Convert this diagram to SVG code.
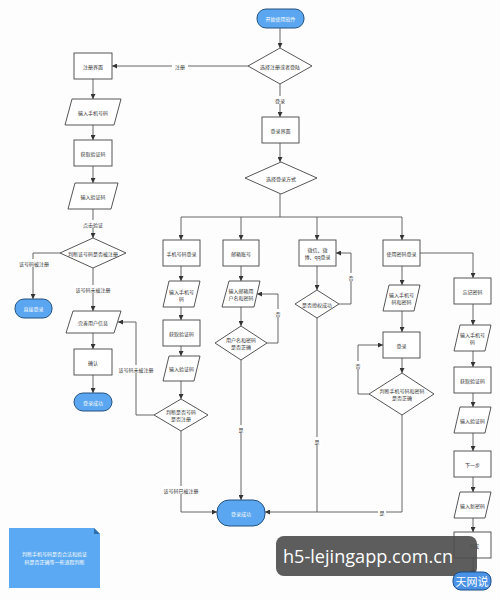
<svg xmlns="http://www.w3.org/2000/svg" width="500" height="600" viewBox="0 0 500 600">
<defs>
<marker id="ah" viewBox="0 0 10 10" refX="10" refY="5" markerWidth="5" markerHeight="5" orient="auto" markerUnits="userSpaceOnUse"><path d="M0,0 L10,5 L0,10 Z" fill="#333"/></marker>
</defs>
<style>
.n{fill:#fff;stroke:#444;stroke-width:0.9}
.p{fill:#5aa6f0;stroke:#24527e;stroke-width:1}
.t{font-family:"Noto Sans CJK SC","Liberation Sans",sans-serif;font-size:5px;fill:#333;text-anchor:middle;dominant-baseline:central}
.w{fill:#fff}
.e{fill:none;stroke:#555;stroke-width:0.9}
.a{marker-end:url(#ah)}
.lb{fill:#fff}
</style>
<rect width="500" height="600" fill="#fdfdfd"/>

<g id="edges">
<path class="e a" d="M280,28 V48"/>
<path class="e a" d="M248,66 H112"/>
<path class="e a" d="M93,79 V99"/>
<path class="e a" d="M93,125 V140"/>
<path class="e a" d="M93,166 V183"/>
<path class="e a" d="M93,209 V238"/>
<path class="e a" d="M60,253 H33 V299"/>
<path class="e a" d="M93,268 V311"/>
<path class="e a" d="M93,333 V349"/>
<path class="e a" d="M93,375 V393"/>
<path class="e a" d="M280,84 V117"/>
<path class="e a" d="M280,143 V162"/>
<path class="e" d="M280,194 V217 M181,217 H402"/>
<path class="e a" d="M181,217 V240"/>
<path class="e a" d="M241,217 V240"/>
<path class="e a" d="M317,217 V240"/>
<path class="e a" d="M402,217 V240"/>
<path class="e a" d="M181,266 V281"/>
<path class="e a" d="M181,307 V320"/>
<path class="e a" d="M181,346 V356"/>
<path class="e a" d="M181,381 V399"/>
<path class="e a" d="M154,415 H136 V322 H118"/>
<path class="e a" d="M181,431 V512 H217"/>
<path class="e a" d="M241,266 V281"/>
<path class="e a" d="M241,307 V326"/>
<path class="e a" d="M267,343 H278 V294 H257"/>
<path class="e a" d="M241,360 V500"/>
<path class="e a" d="M317,266 V290"/>
<path class="e a" d="M339,304 H351 V253 H336"/>
<path class="e" d="M317,318 V512"/>
<path class="e a" d="M402,266 V285"/>
<path class="e a" d="M402,311 V332"/>
<path class="e a" d="M402,358 V373"/>
<path class="e a" d="M369,394 H358 V345 H383"/>
<path class="e a" d="M402,415 V512 H265"/>
<path class="e a" d="M420,253 H473 V278"/>
<path class="e a" d="M473,304 V325"/>
<path class="e a" d="M473,351 V367"/>
<path class="e a" d="M473,393 V407"/>
<path class="e a" d="M473,433 V451"/>
<path class="e a" d="M473,477 V492"/>
<path class="e a" d="M473,518 V532"/>
<path class="e a" d="M473,558 V575"/>
<g id="edge-labels">
<rect class="lb" x="172" y="62" width="16" height="8"/><text class="t" x="180" y="66">注册</text>
<rect class="lb" x="82" y="220" width="22" height="8"/><text class="t" x="93" y="224">点击验证</text>
<rect class="lb" x="18" y="259" width="32" height="8"/><text class="t" x="34" y="263">该号码被注册</text>
<rect class="lb" x="75" y="285" width="36" height="8"/><text class="t" x="93" y="289">该号码未被注册</text>
<rect class="lb" x="272" y="96" width="16" height="8"/><text class="t" x="280" y="100">登录</text>
<rect class="lb" x="118" y="365" width="36" height="8"/><text class="t" x="136" y="369">该号码未被注册</text>
<rect class="lb" x="163" y="486" width="36" height="8"/><text class="t" x="181" y="490">该号码已被注册</text>
<rect class="lb" x="274" y="309" width="8" height="8"/><text class="t" x="278" y="313">否</text>
<rect class="lb" x="237" y="425" width="8" height="8"/><text class="t" x="241" y="429">是</text>
<rect class="lb" x="347" y="273" width="8" height="8"/><text class="t" x="351" y="277">否</text>
<rect class="lb" x="313" y="437" width="8" height="8"/><text class="t" x="317" y="441">是</text>
<rect class="lb" x="354" y="361" width="8" height="8"/><text class="t" x="358" y="365">否</text>
<rect class="lb" x="378" y="508" width="8" height="8"/><text class="t" x="382" y="512">是</text>
</g>
</g>

<g id="start"><rect class="p" x="257" y="9" width="47" height="19" rx="9"/><text class="t w" x="280.5" y="18.5">开始使用软件</text></g>
<g id="choose"><polygon class="n" points="280,48 312,66 280,84 248,66"/><text class="t" x="280" y="66">选择注册或者登陆</text></g>
<g id="reg"><rect class="n" x="74" y="53" width="38" height="26"/><text class="t" x="93" y="66">注册界面</text></g>
<g id="reg-phone"><polygon class="n" points="72,99 121,99 114,125 65,125"/><text class="t" x="93" y="112">输入手机号码</text></g>
<g id="reg-getcode"><rect class="n" x="74" y="140" width="38" height="26"/><text class="t" x="93" y="153">获取验证码</text></g>
<g id="reg-code"><polygon class="n" points="75,183 118,183 111,209 68,209"/><text class="t" x="93" y="196">输入验证码</text></g>
<g id="reg-check"><polygon class="n" points="93,238 126,253 93,268 60,253"/><text class="t" x="93" y="253">判断该号码是否被注册</text></g>
<g id="direct-login"><rect class="p" x="15" y="299" width="37" height="19" rx="9"/><text class="t w" x="33.5" y="308.5">直接登录</text></g>
<g id="reg-info"><polygon class="n" points="73,311 121,311 114,333 66,333"/><text class="t" x="93" y="322">完善用户信息</text></g>
<g id="reg-confirm"><rect class="n" x="74" y="349" width="38" height="26"/><text class="t" x="93" y="362">确认</text></g>
<g id="reg-success"><rect class="p" x="74" y="393" width="38" height="18" rx="9"/><text class="t w" x="93" y="402">登录成功</text></g>

<g id="login"><rect class="n" x="262" y="117" width="37" height="26"/><text class="t" x="280.5" y="130">登录界面</text></g>
<g id="login-way"><polygon class="n" points="281,162 317,178 281,194 245,178"/><text class="t" x="281" y="178">选择登录方式</text></g>

<g id="phone-login"><rect class="n" x="163" y="240" width="37" height="26"/><text class="t" x="181.5" y="253">手机号码登录</text></g>
<g id="pl-phone"><polygon class="n" points="169,281 200,281 194,307 163,307"/><text class="t" x="181.5" y="291">输入手机号</text><text class="t" x="181.5" y="298">码</text></g>
<g id="pl-getcode"><rect class="n" x="163" y="320" width="37" height="26"/><text class="t" x="181.5" y="333">获取验证码</text></g>
<g id="pl-code"><polygon class="n" points="169,356 200,356 194,381 163,381"/><text class="t" x="181.5" y="368.5">输入验证码</text></g>
<g id="pl-check"><polygon class="n" points="181,399 208,415 181,431 154,415"/><text class="t" x="181" y="411">判断是否号码</text><text class="t" x="181" y="418">是否注册</text></g>

<g id="mail-login"><rect class="n" x="223" y="240" width="36" height="26"/><text class="t" x="241" y="253">邮箱账号</text></g>
<g id="ml-input"><polygon class="n" points="229,281 260,281 254,307 222,307"/><text class="t" x="241" y="290.5">输入邮箱用</text><text class="t" x="241" y="297.5">户名和密码</text></g>
<g id="ml-check"><polygon class="n" points="241,326 267,343 241,360 215,343"/><text class="t" x="241" y="339.5">用户名和密码</text><text class="t" x="241" y="346.5">是否正确</text></g>

<g id="social-login"><rect class="n" x="299" y="240" width="37" height="26"/><text class="t" x="317.5" y="249.5">微信、微</text><text class="t" x="317.5" y="256.5">博、qq登录</text></g>
<g id="sl-check"><polygon class="n" points="317,290 339,304 317,318 295,304"/><text class="t" x="317" y="304">是否授权成功</text></g>

<g id="pwd-login"><rect class="n" x="383" y="240" width="37" height="26"/><text class="t" x="401.5" y="253">使用密码登录</text></g>
<g id="pw-input"><polygon class="n" points="389,285 420,285 414,311 383,311"/><text class="t" x="401.5" y="294.5">输入手机号</text><text class="t" x="401.5" y="301.5">码和密码</text></g>
<g id="pw-login"><rect class="n" x="383" y="332" width="37" height="26"/><text class="t" x="401.5" y="345">登录</text></g>
<g id="pw-check"><polygon class="n" points="402,373 434,394 402,415 369,394"/><text class="t" x="402" y="390.5">判断手机号码和密码</text><text class="t" x="402" y="397.5">是否正确</text></g>

<g id="forget"><rect class="n" x="454" y="278" width="37" height="26"/><text class="t" x="472.5" y="291">忘记密码</text></g>
<g id="fg-phone"><polygon class="n" points="460,325 491,325 485,351 454,351"/><text class="t" x="472.5" y="334.5">输入手机号</text><text class="t" x="472.5" y="341.5">码</text></g>
<g id="fg-getcode"><rect class="n" x="454" y="367" width="37" height="26"/><text class="t" x="472.5" y="380">获取验证码</text></g>
<g id="fg-code"><polygon class="n" points="460,407 491,407 485,433 454,433"/><text class="t" x="472.5" y="420">输入验证码</text></g>
<g id="fg-next"><rect class="n" x="454" y="451" width="37" height="26"/><text class="t" x="472.5" y="464">下一步</text></g>
<g id="fg-newpwd"><polygon class="n" points="460,492 491,492 485,518 454,518"/><text class="t" x="472.5" y="505">输入新密码</text></g>
<g id="fg-done"><rect class="n" x="454" y="532" width="37" height="26"/><text class="t" x="474" y="545">完成</text></g>

<g id="success"><rect class="p" x="217" y="500" width="48" height="26" rx="12"/><text class="t w" x="241" y="513">登录成功</text></g>

<g id="note"><path d="M9,528 H94 L100,534 V588 H9 Z" fill="#5aa9f2"/><path d="M94,528 L100,534 H94 Z" fill="#2f6fb0"/><text class="t w" x="54.5" y="553">判断手机号码是否合法和验证</text><text class="t w" x="54.5" y="561">码是否正确等一些流程判断</text></g>

<g id="watermark">
<rect x="276" y="536" width="201" height="40" rx="8" fill="#4f4f4f" fill-opacity="0.92"/>
<text x="283" y="563" font-family="'Open Sans','DejaVu Sans',sans-serif" font-size="19" fill="#fff" textLength="170" lengthAdjust="spacingAndGlyphs">h5-lejingapp.com.cn</text>
<rect x="453" y="572" width="38" height="18" rx="8" fill="#4a92e6" stroke="#1c4f8a" stroke-width="1"/>
<text x="472" y="581" font-family="'Noto Sans CJK SC',sans-serif" font-size="11" fill="#fff" text-anchor="middle" dominant-baseline="central">天网说</text>
</g>
</svg>
